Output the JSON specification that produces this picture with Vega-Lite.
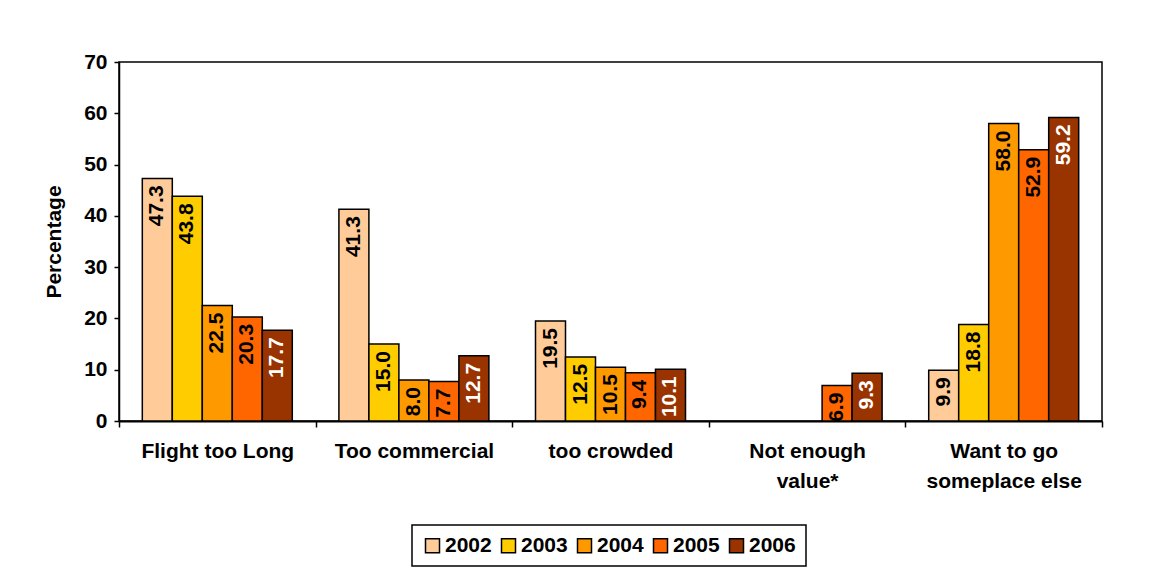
{
  "$schema": "https://vega.github.io/schema/vega-lite/v6.json",
  "autosize": {"type": "none"},
  "padding": {"left": 119, "top": 62, "right": 52, "bottom": 159},
  "width": 983,
  "height": 359,
  "background": "white",
  "config": {
    "font": "Liberation Sans",
    "view": {"stroke": "black", "strokeWidth": 1.5},
    "axis": {"grid": false, "domainColor": "black", "tickColor": "black", "labelColor": "black", "titleColor": "black", "labelFont": "Liberation Sans", "titleFont": "Liberation Sans", "labelFontWeight": "bold", "titleFontWeight": "bold"}
  },
  "data": {
    "values": [
      {"reason": "Flight too Long", "year": "2002", "pct": 47.3},
      {"reason": "Flight too Long", "year": "2003", "pct": 43.8},
      {"reason": "Flight too Long", "year": "2004", "pct": 22.5},
      {"reason": "Flight too Long", "year": "2005", "pct": 20.3},
      {"reason": "Flight too Long", "year": "2006", "pct": 17.7},
      {"reason": "Too commercial", "year": "2002", "pct": 41.3},
      {"reason": "Too commercial", "year": "2003", "pct": 15.0},
      {"reason": "Too commercial", "year": "2004", "pct": 8.0},
      {"reason": "Too commercial", "year": "2005", "pct": 7.7},
      {"reason": "Too commercial", "year": "2006", "pct": 12.7},
      {"reason": "too crowded", "year": "2002", "pct": 19.5},
      {"reason": "too crowded", "year": "2003", "pct": 12.5},
      {"reason": "too crowded", "year": "2004", "pct": 10.5},
      {"reason": "too crowded", "year": "2005", "pct": 9.4},
      {"reason": "too crowded", "year": "2006", "pct": 10.1},
      {"reason": "Not enough value*", "year": "2005", "pct": 6.9},
      {"reason": "Not enough value*", "year": "2006", "pct": 9.3},
      {"reason": "Want to go someplace else", "year": "2002", "pct": 9.9},
      {"reason": "Want to go someplace else", "year": "2003", "pct": 18.8},
      {"reason": "Want to go someplace else", "year": "2004", "pct": 58.0},
      {"reason": "Want to go someplace else", "year": "2005", "pct": 52.9},
      {"reason": "Want to go someplace else", "year": "2006", "pct": 59.2}
    ]
  },
  "encoding": {
    "x": {
      "field": "reason", "type": "nominal",
      "sort": ["Flight too Long", "Too commercial", "too crowded", "Not enough value*", "Want to go someplace else"],
      "scale": {"paddingInner": 0, "paddingOuter": 0},
      "axis": {
        "title": null, "labelAngle": 0, "labelFontSize": 21, "labelPadding": 13,
        "tickBand": "extent", "tickSize": 6, "tickWidth": 1.5, "domainWidth": 2,
        "labelLineHeight": 30,
        "labelExpr": "datum.value == 'Not enough value*' ? ['Not enough', 'value*'] : datum.value == 'Want to go someplace else' ? ['Want to go', 'someplace else'] : datum.value"
      }
    },
    "xOffset": {
      "field": "year", "type": "nominal",
      "scale": {"domain": ["2002", "2003", "2004", "2005", "2006"], "paddingInner": 0, "paddingOuter": 0.777}
    },
    "y": {
      "field": "pct", "type": "quantitative",
      "scale": {"domain": [0, 70], "nice": false},
      "axis": {"title": "Percentage", "titleFontSize": 21, "titlePadding": 19, "labelFontSize": 21, "labelPadding": 7, "values": [0, 10, 20, 30, 40, 50, 60, 70], "tickSize": 5, "tickWidth": 1.5, "domainWidth": 1.5}
    }
  },
  "layer": [
    {
      "mark": {"type": "bar", "stroke": "black", "strokeWidth": 1.5},
      "encoding": {
        "color": {
          "field": "year", "type": "nominal",
          "scale": {"domain": ["2002", "2003", "2004", "2005", "2006"], "range": ["#FFCC99", "#FFCC00", "#FF9900", "#FF6600", "#993300"]},
          "legend": {
            "title": null, "orient": "none", "direction": "horizontal",
            "legendX": 293, "legendY": 463,
            "strokeColor": "black", "padding": 10,
            "symbolType": "square", "symbolSize": 196, "symbolStrokeColor": "black", "symbolStrokeWidth": 1.5, "symbolOpacity": 1,
            "labelFontSize": 21, "labelFontWeight": "bold", "labelColor": "black", "labelFont": "Liberation Sans",
            "labelOffset": 2, "columnPadding": 6,
            "encode": {"legend": {"update": {"strokeWidth": {"value": 1.5}}}}
          }
        }
      }
    },
    {
      "mark": {"type": "text", "angle": 270, "align": "right", "baseline": "middle", "dx": -7, "fontSize": 21, "fontWeight": "bold", "font": "Liberation Sans"},
      "encoding": {
        "text": {"field": "pct", "type": "quantitative", "format": ".1f"},
        "color": {"condition": {"test": "datum.year == '2006'", "value": "white"}, "value": "black"}
      }
    }
  ]
}
